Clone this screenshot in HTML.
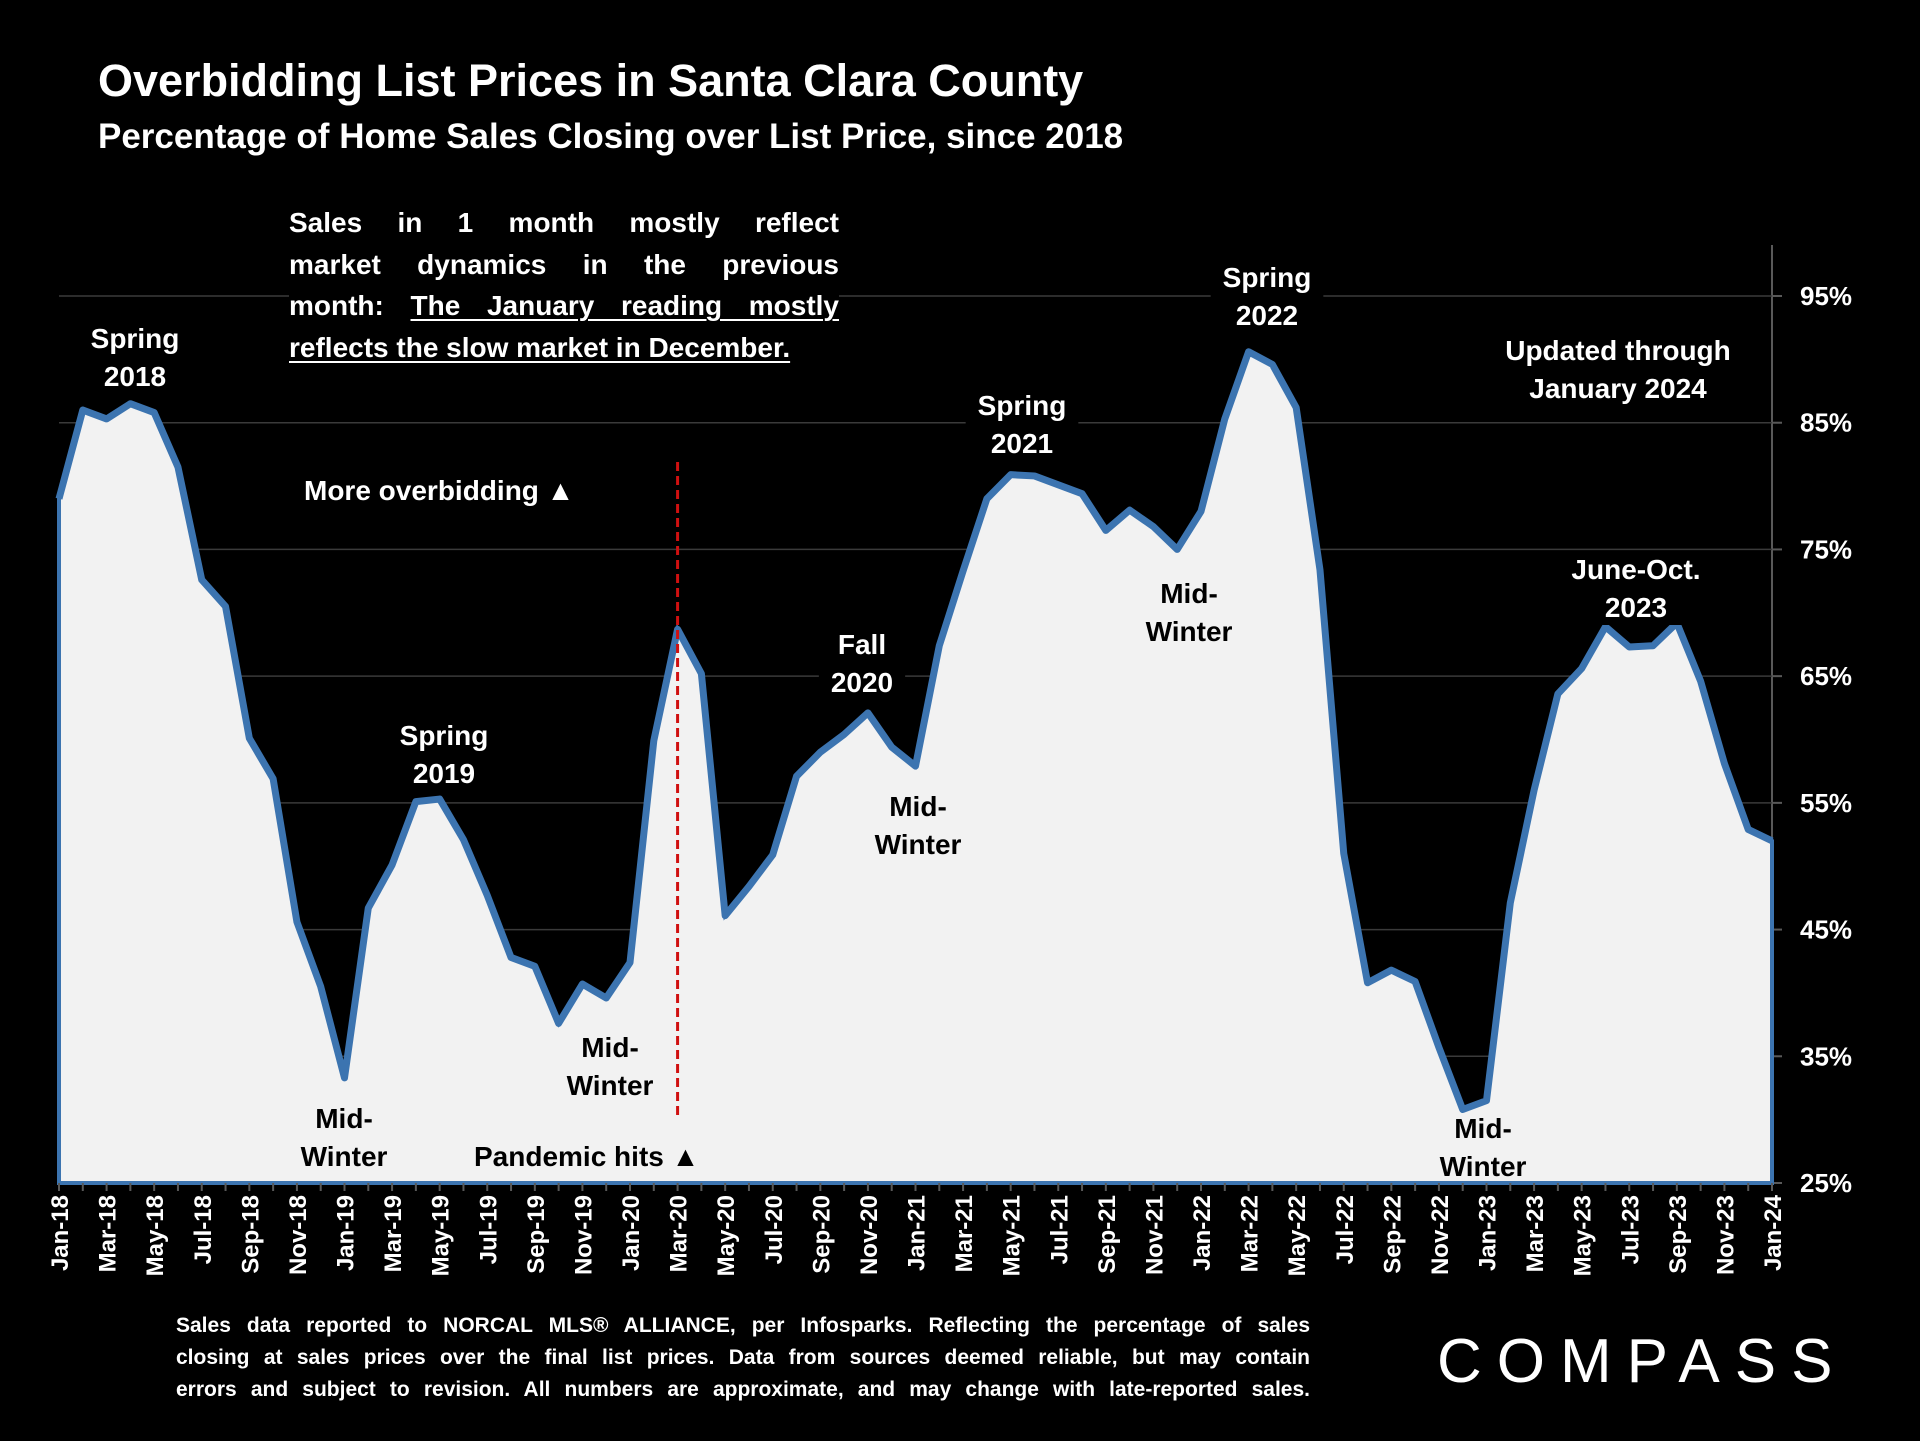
<!DOCTYPE html>
<html><head><meta charset="utf-8">
<style>
html,body{margin:0;padding:0;background:#000;}
body{width:1920px;height:1441px;position:relative;overflow:hidden;font-family:"Liberation Sans",sans-serif;color:#fff;}
.t{position:absolute;font-weight:bold;}
#note{position:absolute;left:289px;top:202px;width:550px;font-size:28px;line-height:41.6px;font-weight:bold;background:#000;color:#fff;}
#note div,#foot div{text-align:justify;text-align-last:justify;white-space:nowrap;}
#note u{text-decoration-thickness:2px;text-underline-offset:4px;}
#foot{position:absolute;left:176px;top:1310px;width:1134px;font-size:21px;line-height:32px;font-weight:bold;color:#fff;}
svg text{font-family:"Liberation Sans",sans-serif;font-weight:bold;}
</style></head>
<body>
<div class="t" style="left:98px;top:55px;font-size:45px;">Overbidding List Prices in Santa Clara County</div>
<div class="t" style="left:98px;top:117px;font-size:35px;">Percentage of Home Sales Closing over List Price, since 2018</div>

<svg id="chart" width="1920" height="1441" style="position:absolute;left:0;top:0">
</svg>

<div id="note">
<div style="white-space:normal">Sales in 1 month mostly reflect</div>
<div style="white-space:normal">market dynamics in the previous</div>
<div style="white-space:normal">month: <u>The January reading mostly</u></div>
<div style="text-align-last:left"><u>reflects the slow market in December.</u></div>
</div>

<div id="foot">
<div style="white-space:normal">Sales data reported to NORCAL MLS® ALLIANCE, per Infosparks. Reflecting the percentage of sales</div>
<div style="white-space:normal">closing at sales prices over the final list prices. Data from sources deemed reliable, but may contain</div>
<div style="white-space:normal">errors and subject to revision. All numbers are approximate, and may change with late-reported sales.</div>
</div>

<div class="t" style="left:1437px;top:1326px;font-size:62px;font-weight:normal;letter-spacing:15px;">COMPASS</div>

<script>
const months=['Jan','Feb','Mar','Apr','May','Jun','Jul','Aug','Sep','Oct','Nov','Dec'];
const categories=[];
for(let y=18;y<=24;y++){for(let m=0;m<12;m++){if(y===24&&m>0)break;categories.push(months[m]+'-'+y);}}
const values=[79,86,85.3,86.5,85.8,81.5,72.6,70.5,60.1,56.9,45.6,40.5,
33.3,46.7,50.1,55.1,55.3,52.1,47.7,42.8,42.1,37.6,40.7,39.6,
42.4,59.9,68.7,65.2,46.1,48.4,50.9,57.1,59.0,60.4,62.1,59.4,
57.9,67.4,73.3,79.0,80.9,80.8,80.1,79.4,76.5,78.1,76.8,75.0,
78,85.3,90.6,89.6,86.2,73.4,51,40.8,41.8,40.9,35.7,30.8,
31.5,47.1,56,63.6,65.6,68.9,67.3,67.4,69.2,64.6,58.1,52.9,52];
const yTicks=[25,35,45,55,65,75,85,95];
const yTickLabels=['25%','35%','45%','55%','65%','75%','85%','95%'];
const pandemicIndex=26;

const L=59,R=1772,Y0=1183,Y1=296,vmin=25,vmax=95;
const n=categories.length;
function xs(i){return L+(R-L)*i/(n-1);}
function ys(v){return Y0-(v-vmin)/(vmax-vmin)*(Y0-Y1);}
const NS='http://www.w3.org/2000/svg';
const svg=document.getElementById('chart');
function mk(tag,attrs,parent){const e=document.createElementNS(NS,tag);for(const k in attrs)e.setAttribute(k,attrs[k]);(parent||svg).appendChild(e);return e;}

const ax=mk('line',{x1:R,x2:R,y1:245,y2:Y0,stroke:'#595959','stroke-width':2});



yTicks.forEach((t,i)=>{
  if(t>vmin){
    const g=mk('line',{x1:L,x2:R,y1:ys(t),y2:ys(t),stroke:'#3a3a3a','stroke-width':1.5});
    
    
  }
  const tk=mk('line',{x1:R,x2:R+10,y1:ys(t),y2:ys(t),stroke:'#595959','stroke-width':2});
  
  
  const tx=mk('text',{x:R+28,y:ys(t)+9,fill:'#fff','font-size':26});
  tx.textContent=yTickLabels[i];
  
  
});

let d='M'+xs(0)+','+Y0;
values.forEach((v,i)=>{d+=' L'+xs(i)+','+ys(v);});
d+=' L'+xs(n-1)+','+Y0+' Z';
const area=mk('path',{d:d,fill:'#f2f2f2',stroke:'#3c74b0','stroke-width':4});


let ld='';
values.forEach((v,i)=>{ld+=(i?' L':'M')+xs(i)+','+ys(v);});
const line=mk('path',{d:ld,fill:'none',stroke:'#3c74b0','stroke-width':7,'stroke-linejoin':'round'});



categories.forEach((c,i)=>{
  const tk=mk('line',{x1:xs(i),x2:xs(i),y1:Y0,y2:Y0+8,stroke:'#595959','stroke-width':2});
  
  
  if(i%2===0){
    const tx=mk('text',{x:0,y:0,fill:'#fff','font-size':24,'text-anchor':'end',transform:'translate('+(xs(i)+9)+','+(Y0+12)+') rotate(-90)'});
    tx.textContent=c;
    
    
  }
});

const pl=mk('line',{x1:xs(pandemicIndex),x2:xs(pandemicIndex),y1:462,y2:1120,stroke:'#d01010','stroke-width':3,'stroke-dasharray':'9,5'});



function label(lines,cx,y,name,bg,anchor){
  const g=mk('g',{});
  
  
  lines.forEach((s,k)=>{
    const t=mk('text',{x:cx,y:y+k*38,'font-size':28,fill:bg?'#fff':'#000','text-anchor':anchor||'middle'},g);
    t.textContent=s;
  });
  if(bg){
    const bb=g.getBBox();
    const r=document.createElementNS(NS,'rect');
    r.setAttribute('x',bb.x-12);r.setAttribute('y',bb.y-2);r.setAttribute('width',bb.width+24);r.setAttribute('height',bb.height+4);r.setAttribute('fill','#000');
    g.insertBefore(r,g.firstChild);
  }
}
label(['Spring','2018'],135,348,'label-spring-2018',true);
label(['Spring','2019'],444,745,'label-spring-2019',true);
label(['Fall','2020'],862,654,'label-fall-2020',true);
label(['Spring','2021'],1022,415,'label-spring-2021',true);
label(['Spring','2022'],1267,287,'label-spring-2022',true);
label(['Updated through','January 2024'],1618,360,'label-updated-through',true);
label(['June-Oct.','2023'],1636,579,'label-june-oct-2023',true);
label(['More overbidding ▲'],304,500,'label-more-overbidding',true,'start');
label(['Mid-','Winter'],344,1128,'label-midwinter-2019',false);
label(['Mid-','Winter'],610,1057,'label-midwinter-2020',false);
label(['Mid-','Winter'],918,816,'label-midwinter-2021',false);
label(['Mid-','Winter'],1189,603,'label-midwinter-2022',false);
label(['Mid-','Winter'],1483,1138,'label-midwinter-2023',false);
label(['Pandemic hits ▲'],474,1166,'label-pandemic-hits',false,'start');
</script>
</body></html>
